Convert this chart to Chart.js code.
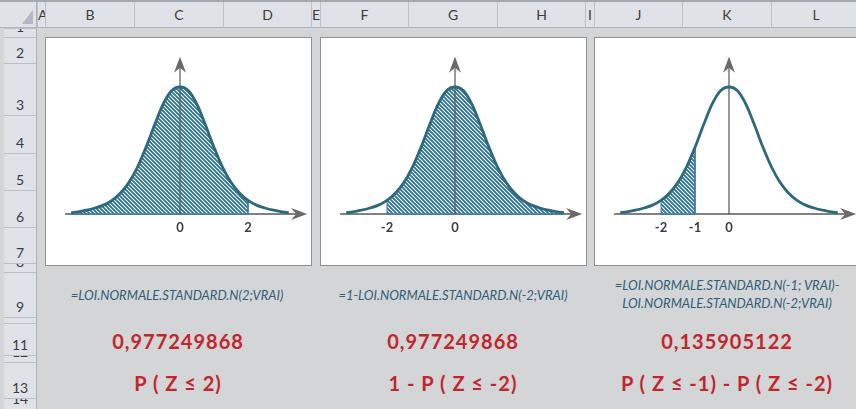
<!DOCTYPE html>
<html>
<head>
<meta charset="utf-8">
<script src="https://cdn.jsdelivr.net/npm/chart.js@4.4.1/dist/chart.umd.min.js"></script>
<style>
  body { margin: 0; width: 856px; height: 409px; overflow: hidden; position: relative;
         background: #d4d5d7; font-family: Lato, "Open Sans", sans-serif; }
  .abs { position: absolute; }
  #topline { left: 0; top: 0; width: 856px; height: 2px; background: #a3a9b0; }
  #colhead { left: 0; top: 2px; width: 856px; height: 26px; background: #dfe3e8;
             border-bottom: 1px solid #abb3bc; box-sizing: border-box; }
  .col { position: absolute; top: 2px; height: 26px; border-left: 1px solid #b9c0c8; box-sizing: border-box;
         overflow: hidden; text-align: center; line-height: 26px; font-size: 14px; color: #3c3c3c; }
  #rowhead { left: 4px; top: 28px; width: 33px; height: 381px; background: #dfe3e8;
             border-right: 1px solid #abb3bc; box-sizing: border-box; }
  .row { position: absolute; left: 4px; width: 32px; border-top: 1px solid #b9c0c8; box-sizing: border-box; overflow: hidden; }
  .row span { position: absolute; bottom: 3px; left: 0; width: 100%; text-align: center;
              font-size: 14px; line-height: 14px; color: #3c3c3c; }
  #corner { left: 4px; top: 2px; width: 33px; height: 26px; background: #dfe3e8;
            border-right: 1px solid #abb3bc; border-bottom: 1px solid #abb3bc; box-sizing: border-box; }
  #tri { left: 22px; top: 10px; width: 0; height: 0; border-left: 11px solid transparent; border-bottom: 14px solid #b3b9c0; }
  .box { position: absolute; top: 37px; width: 267px; height: 229px; background: #fff;
         border: 1px solid #8f8f8f; box-sizing: border-box; }
  .box canvas { display: block; }
  .txt { position: absolute; width: 280px; text-align: center; white-space: nowrap; }
  .formula { font-style: italic; font-size: 13px; line-height: 18px; color: #2f5e77; }
  .big { font-weight: bold; font-size: 20px; line-height: 24px; color: #c0272d; letter-spacing: 1px; }
</style>
</head>
<body>
<div id="topline" class="abs"></div>
<div id="colhead" class="abs"></div>
<div id="rowhead" class="abs"></div>
<div id="grid"></div>
<div id="corner" class="abs"></div>
<div id="tri" class="abs"></div>

<div class="box" style="left:45px"><canvas id="chart1" width="265" height="227"></canvas></div>
<div class="box" style="left:320px"><canvas id="chart2" width="265" height="227"></canvas></div>
<div class="box" style="left:594px"><canvas id="chart3" width="265" height="227"></canvas></div>

<div class="txt formula" style="left:37px;top:286px">=LOI.NORMALE.STANDARD.N(2;VRAI)</div>
<div class="txt formula" style="left:313px;top:286px">=1-LOI.NORMALE.STANDARD.N(-2;VRAI)</div>
<div class="txt formula" style="left:587px;top:276px">=LOI.NORMALE.STANDARD.N(-1; VRAI)-</div>
<div class="txt formula" style="left:587px;top:294px">LOI.NORMALE.STANDARD.N(-2;VRAI)</div>

<div class="txt big" style="left:38px;top:329px">0,977249868</div>
<div class="txt big" style="left:313px;top:329px">0,977249868</div>
<div class="txt big" style="left:587px;top:329px">0,135905122</div>

<div class="txt big" style="left:38px;top:371px">P ( Z ≤ 2)</div>
<div class="txt big" style="left:313px;top:371px">1 - P ( Z ≤ -2)</div>
<div class="txt big" style="left:587px;top:371px">P ( Z ≤ -1) - P ( Z ≤ -2)</div>

<script>
// spreadsheet frame
const colLetters = ['A', 'B', 'C', 'D', 'E', 'F', 'G', 'H', 'I', 'J', 'K', 'L'];
const colEdges = [37, 45, 134, 223, 311, 320, 408, 497, 585, 594, 682, 771, 860];
const rowEdges = [28, 37, 63, 115, 153, 190, 227, 263, 272, 317, 323, 355, 362, 398, 420];

// bell curve as drawn (x in z units, height scaled so the peak is 0.4)
const curveX = [-3.2, -3, -2.75, -2.5, -2.25, -2, -1.75, -1.5, -1.25, -1, -0.75, -0.5, -0.25,
                0, 0.25, 0.5, 0.75, 1, 1.25, 1.5, 1.75, 2, 2.25, 2.5, 2.75, 3, 3.2];
const curveY = [0.004, 0.007, 0.012, 0.019, 0.028, 0.043, 0.066, 0.100, 0.148, 0.210, 0.280, 0.345, 0.388,
                0.400, 0.388, 0.345, 0.280, 0.210, 0.148, 0.100, 0.066, 0.043, 0.028, 0.019, 0.012, 0.007, 0.004];

// arrows of the two axes
const xAxisFrom = -3.38;
const xAxisTo = 3.74;
const yAxisTo = 0.495;

// hatched area and labels under the axis, one per chart
const shade1 = [-3.2, 2];
const shade2 = [-2, 3.2];
const shade3 = [-2, -1];
const ticks1 = [0, 2];
const ticks2 = [-2, 0];
const ticks3 = [-2, -1, 0];

const grid = document.getElementById('grid');
colLetters.forEach((c, i) => {
  const d = document.createElement('div');
  d.className = 'col';
  d.style.left = colEdges[i] + 'px';
  d.style.width = (colEdges[i + 1] - colEdges[i]) + 'px';
  d.textContent = c;
  grid.appendChild(d);
});
for (let i = 0; i < rowEdges.length - 1; i++) {
  const d = document.createElement('div');
  d.className = 'row';
  d.style.top = rowEdges[i] + 'px';
  d.style.height = (rowEdges[i + 1] - rowEdges[i]) + 'px';
  const s = document.createElement('span');
  s.textContent = i + 1;
  if (rowEdges[i + 1] > 409) s.style.bottom = (rowEdges[i + 1] - 409 + 3) + 'px';
  d.appendChild(s);
  grid.appendChild(d);
}

function hatchPattern() {
  const c = document.createElement('canvas');
  c.width = 4; c.height = 4;
  const g = c.getContext('2d');
  g.fillStyle = '#ffffff';
  g.fillRect(0, 0, 4, 4);
  g.strokeStyle = '#2a7290';
  g.lineWidth = 1.8;
  g.beginPath();
  g.moveTo(-1, -1); g.lineTo(5, 5);
  g.moveTo(-1, 3); g.lineTo(1, 5);
  g.moveTo(3, -1); g.lineTo(5, 1);
  g.stroke();
  return g.createPattern(c, 'repeat');
}

function curvePoints() {
  return curveX.map((x, i) => ({ x: x, y: curveY[i] }));
}

// outline of the hatched zone: up the left edge, along the curve, down the right edge
function shadePoints(range) {
  const pts = [{ x: range[0], y: 0 }];
  curveX.forEach((x, i) => {
    if (x >= range[0] && x <= range[1]) pts.push({ x: x, y: curveY[i] });
  });
  pts.push({ x: range[1], y: 0 });
  return pts;
}

function arrowHead(ctx, x, y, dir) {
  ctx.save();
  ctx.translate(x, y);
  if (dir === 'up') ctx.rotate(-Math.PI / 2);
  ctx.fillStyle = '#6a6a6a';
  ctx.beginPath();
  ctx.moveTo(0, 0);
  ctx.lineTo(-16, -6);
  ctx.lineTo(-11, 0);
  ctx.lineTo(-16, 6);
  ctx.closePath();
  ctx.fill();
  ctx.restore();
}

const axisDecor = {
  id: 'axisDecor',
  afterDatasetsDraw(chart, args, opts) {
    const { ctx, scales: { x, y } } = chart;
    const x0 = x.getPixelForValue(0);
    const y0 = y.getPixelForValue(0);
    arrowHead(ctx, x.getPixelForValue(xAxisTo), y0, 'right');
    arrowHead(ctx, x0, y.getPixelForValue(yAxisTo), 'up');
    ctx.save();
    ctx.font = 'bold 13px Lato, "Open Sans", sans-serif';
    ctx.fillStyle = '#383d47';
    ctx.textAlign = 'center';
    ctx.textBaseline = 'middle';
    opts.ticks.forEach(v => ctx.fillText(String(v), x.getPixelForValue(v), y0 + 14));
    ctx.restore();
  }
};

// 34 px per z unit, 0 sits 134 px from the left and 176 px from the top of the canvas
const xMin = -134 / 34, xMax = 131 / 34;
const yMin = -51 / 317.5, yMax = 176 / 317.5;

function makeChart(id, shade, ticks) {
  return new Chart(document.getElementById(id), {
    type: 'line',
    data: {
      datasets: [
        {
          label: 'axe x',
          data: [{ x: xAxisFrom, y: 0 }, { x: xAxisTo - 0.2, y: 0 }],
          borderColor: '#808080', borderWidth: 2, pointRadius: 0, fill: false, order: 6
        },
        {
          label: 'aire',
          data: shadePoints(shade),
          borderColor: '#4477a8', borderWidth: 1, backgroundColor: hatchPattern(),
          pointRadius: 0, fill: 'origin', tension: 0, order: 5
        },
        {
          label: 'base',
          data: [{ x: shade[0], y: 0 }, { x: shade[1], y: 0 }],
          borderColor: '#4477a8', borderWidth: 1.5, pointRadius: 0, fill: false, order: 4
        },
        {
          label: 'axe y',
          data: [{ x: 0, y: 0 }, { x: 0, y: yAxisTo - 0.03 }],
          borderColor: '#555555', borderWidth: 1.2, pointRadius: 0, fill: false, order: 3
        },
        {
          label: 'densité',
          data: curvePoints(),
          borderColor: '#2d687c', borderWidth: 2.8, pointRadius: 0, fill: false,
          cubicInterpolationMode: 'monotone', order: 1
        }
      ]
    },
    options: {
      responsive: false,
      animation: false,
      events: [],
      layout: { padding: 0 },
      scales: {
        x: { type: 'linear', display: false, min: xMin, max: xMax },
        y: { type: 'linear', display: false, min: yMin, max: yMax }
      },
      plugins: {
        legend: { display: false },
        tooltip: { enabled: false },
        axisDecor: { ticks: ticks }
      }
    },
    plugins: [axisDecor]
  });
}

makeChart('chart1', shade1, ticks1);
makeChart('chart2', shade2, ticks2);
makeChart('chart3', shade3, ticks3);
</script>
</body>
</html>
